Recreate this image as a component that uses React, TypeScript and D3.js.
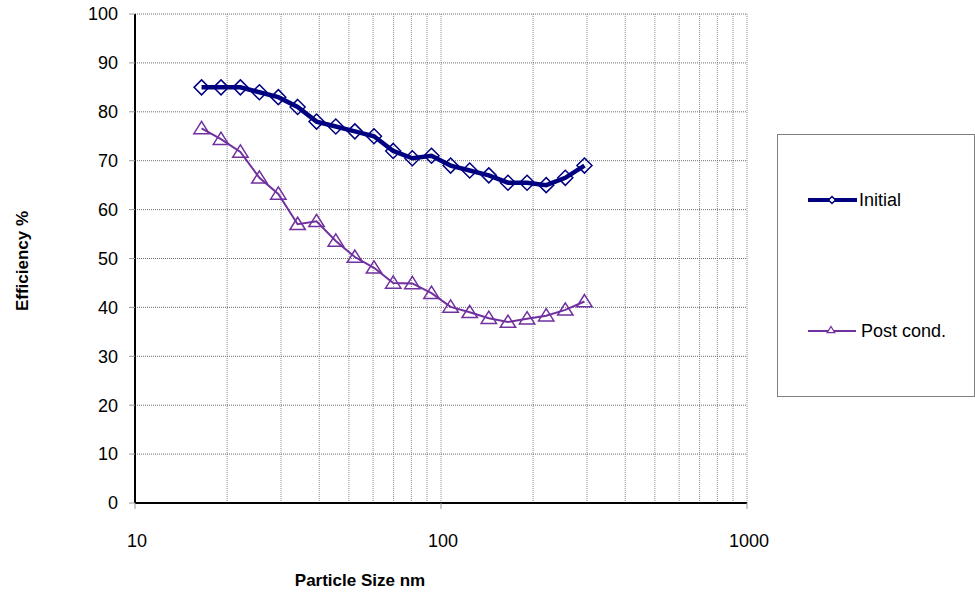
import React from "react";
import * as d3 from "d3";

// particle sizes (nm)
const sizes = [16.5, 19.1, 22.1, 25.5, 29.4, 34.0, 39.2, 45.3, 52.3, 60.4, 69.8, 80.6, 93.1, 107.5, 124.1, 143.3, 165.5, 191.1, 220.7, 254.8, 294.3];
const initial = [85, 85, 85, 84, 83, 81, 78, 77, 76, 75, 72, 70.5, 71, 69, 68, 67, 65.5, 65.5, 65, 66.5, 69];
const postCond = [76.6, 74.4, 71.8, 66.5, 63.2, 57, 57.6, 53.6, 50.3, 48.1, 45, 44.9, 42.9, 40.1, 39, 37.8, 37, 37.7, 38.3, 39.5, 41.2];
const yTicks = [0, 10, 20, 30, 40, 50, 60, 70, 80, 90, 100];
const xTicks = [10, 100, 1000];

const W = 975, H = 593;
const left = 135, right = 747, top = 14, bottom = 503;

const App = () => {
  const x = d3.scaleLog().domain([10, 1000]).range([left, right]);
  const y = d3.scaleLinear().domain([0, 100]).range([bottom, top]);

  const minor: number[] = [];
  [10, 100].forEach(d => { for (let k = 2; k <= 9; k++) minor.push(d * k); });

  const line = d3.line<number>()
    .x((_, i) => x(sizes[i]))
    .y(d => y(d));

  const font = "Liberation Sans, Arial, sans-serif";
  const diamond = (s: number) => `M0,${-s}L${s},0L0,${s}L${-s},0Z`;
  const tri = (s: number) => `M0,${-s}L${s * 1.1},${s * 0.75}L${-s * 1.1},${s * 0.75}Z`;

  return (
    <svg width={W} height={H} style={{ position: "absolute", left: 0, top: 0, background: "#fff" }} fontFamily={font}>
      {/* vertical grid */}
      {minor.concat([100, 1000]).map(d => (
        <line key={"vx" + d} x1={x(d)} x2={x(d)} y1={top} y2={bottom}
          stroke="#8c8c8c" strokeWidth={1} strokeDasharray="1,1" />
      ))}
      {/* horizontal grid */}
      {yTicks.filter(d => d > 0).map(d => (
        <line key={"hy" + d} x1={left} x2={right} y1={y(d)} y2={y(d)}
          stroke="#6e6e6e" strokeWidth={1} strokeDasharray="1,1" />
      ))}
      {/* axes */}
      <line x1={left} x2={left} y1={top} y2={bottom} stroke="#000" strokeWidth={2} />
      <line x1={left} x2={right} y1={bottom} y2={bottom} stroke="#000" strokeWidth={2} />
      {yTicks.map(d => (
        <g key={"yt" + d}>
          <line x1={left - 6} x2={left} y1={y(d)} y2={y(d)} stroke="#999" />
          <text x={left - 17} y={y(d)} dy="0.35em" textAnchor="end" fontSize={18}>{d}</text>
        </g>
      ))}
      {xTicks.map(d => (
        <g key={"xt" + d}>
          <line x1={x(d)} x2={x(d)} y1={bottom} y2={bottom + 6} stroke="#999" />
          <text x={x(d) + 2} y={bottom + 44} textAnchor="middle" fontSize={18}>{d}</text>
        </g>
      ))}
      <text x={360} y={586} textAnchor="middle" fontSize={17} fontWeight="bold">Particle Size nm</text>
      <text transform={`translate(28,${261}) rotate(-90)`} textAnchor="middle" fontSize={17} fontWeight="bold">Efficiency %</text>

      {/* Post cond. */}
      <path d={line(postCond) || ""} fill="none" stroke="#7030A0" strokeWidth={2} />
      {postCond.map((v, i) => (
        <path key={"p" + i} d={tri(7)} transform={`translate(${x(sizes[i])},${y(v)})`}
          fill="none" stroke="#7030A0" strokeWidth={1.5} />
      ))}
      {/* Initial */}
      <path d={line(initial) || ""} fill="none" stroke="#000080" strokeWidth={4.5} />
      {initial.map((v, i) => (
        <path key={"i" + i} d={diamond(7.5)} transform={`translate(${x(sizes[i])},${y(v)})`}
          fill="none" stroke="#000080" strokeWidth={1.5} />
      ))}

      {/* legend */}
      <rect x={777.5} y={134.5} width={197} height={262} fill="#fff" stroke="#808080" strokeWidth={1} />
      <line x1={808} x2={857} y1={200} y2={200} stroke="#000080" strokeWidth={4} />
      <path d={diamond(3.5)} transform="translate(832,200)" fill="#fff" stroke="#000080" strokeWidth={1.5} />
      <text x={859} y={200} dy="0.35em" fontSize={18}>Initial</text>
      <line x1={808} x2={856} y1={331} y2={331} stroke="#7030A0" strokeWidth={2} />
      <path d={tri(3.5)} transform="translate(831,330)" fill="#fff" stroke="#7030A0" strokeWidth={1.2} />
      <text x={861} y={331} dy="0.35em" fontSize={18}>Post cond.</text>
    </svg>
  );
};

export default App;
